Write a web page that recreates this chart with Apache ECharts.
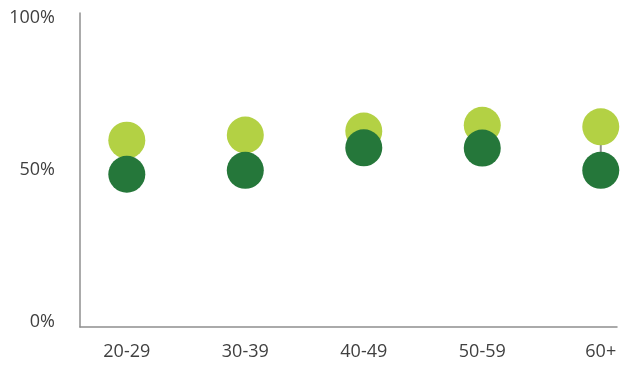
<!DOCTYPE html>
<html>
<head>
<meta charset="utf-8">
<script src="https://cdn.jsdelivr.net/npm/echarts@6/dist/echarts.min.js"></script>
<style>
  html, body { margin: 0; padding: 0; background: #fff; }
  #chart { width: 622px; height: 369px; }
</style>
</head>
<body>
<div id="chart"></div>
<script>
// Age groups along the horizontal axis
const categories = ['20-29', '30-39', '40-49', '50-59', '60+'];
// Share (%) per age group, two groups compared
const seriesLight = [59.8, 61.5, 62.8, 64.7, 64.2];
const seriesDark = [48.6, 49.9, 57.3, 57.2, 49.9];
// Value-axis tick labels
const yTicks = [0, 50, 100];

const LIGHT = '#b3d144';
const DARK = '#25773a';
const AXIS = '#8f8f8f';
const TEXT = '#404040';
const FONT = '"Open Sans", "Noto Sans", sans-serif';

const idx = categories.map((_, i) => i);
const lightData = idx.map(i => [i, seriesLight[i]]);
const darkData = idx.map(i => [i, seriesDark[i]]);
const linkData = idx.map(i => [i, seriesLight[i], seriesDark[i]]);

const chart = echarts.init(document.getElementById('chart'));
chart.setOption({
  animation: false,
  grid: { left: 80, right: 5, top: 13, bottom: 42 },
  xAxis: {
    type: 'value',
    min: -0.395,
    max: 4.137,
    splitLine: { show: false },
    axisLine: { show: true, onZero: false, lineStyle: { color: AXIS, width: 1.5 } },
    axisTick: { show: false },
    axisLabel: {
      customValues: idx,
      formatter: v => categories[Math.round(v)],
      color: TEXT,
      fontFamily: FONT,
      fontSize: 18,
      margin: 16
    }
  },
  yAxis: {
    type: 'value',
    min: -1.6,
    max: 101.6,
    splitLine: { show: false },
    axisLine: { show: true, onZero: false, lineStyle: { color: AXIS, width: 1.5 } },
    axisTick: { show: false },
    axisLabel: {
      customValues: yTicks,
      formatter: v => v + '%',
      color: TEXT,
      fontFamily: FONT,
      fontSize: 18,
      margin: 25
    }
  },
  series: [
    {
      // connector between the two dots of each age group
      type: 'custom',
      data: linkData,
      z: 1,
      renderItem: (params, api) => {
        const a = api.coord([api.value(0), api.value(1)]);
        const b = api.coord([api.value(0), api.value(2)]);
        return {
          type: 'line',
          shape: { x1: a[0], y1: a[1], x2: b[0], y2: b[1] },
          style: { stroke: AXIS, lineWidth: 2 }
        };
      }
    },
    {
      type: 'scatter',
      data: lightData,
      symbolSize: 37,
      z: 2,
      itemStyle: { color: LIGHT, opacity: 1 }
    },
    {
      type: 'scatter',
      data: darkData,
      symbolSize: 37,
      z: 3,
      itemStyle: { color: DARK, opacity: 1 }
    }
  ]
});
</script>
</body>
</html>
